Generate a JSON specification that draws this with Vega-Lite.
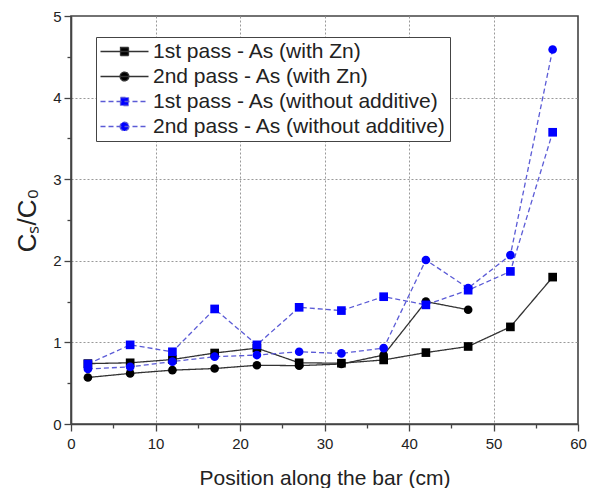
{
  "$schema": "https://vega.github.io/schema/vega-lite/v6.json",
  "width": 507,
  "height": 408,
  "autosize": {"type": "none"},
  "padding": {"left": 71, "top": 16, "right": 11, "bottom": 64},
  "background": "white",
  "config": {
    "font": "Liberation Sans",
    "view": {"stroke": "#444", "strokeWidth": 1.6},
    "legend": {
      "title": null,
      "orient": "none",
      "legendX": 25,
      "legendY": 21,
      "fillColor": "white",
      "strokeColor": "#444",
      "padding": 4,
      "rowPadding": 3,
      "labelFontSize": 21,
      "labelLimit": 400,
      "labelColor": "#222",
      "labelFont": "Liberation Sans",
      "symbolSize": 256,
      "symbolOffset": 14,
      "labelOffset": 18,
      "symbolStrokeWidth": 1.3,
      "symbolOpacity": 1
    }
  },
  "data": {
    "values": [
      {"pos": 2, "ratio": 0.74, "series": "1st pass - As (with Zn)"},
      {"pos": 7, "ratio": 0.75, "series": "1st pass - As (with Zn)"},
      {"pos": 12, "ratio": 0.79, "series": "1st pass - As (with Zn)"},
      {"pos": 17, "ratio": 0.87, "series": "1st pass - As (with Zn)"},
      {"pos": 22, "ratio": 0.93, "series": "1st pass - As (with Zn)"},
      {"pos": 27, "ratio": 0.75, "series": "1st pass - As (with Zn)"},
      {"pos": 32, "ratio": 0.745, "series": "1st pass - As (with Zn)"},
      {"pos": 37, "ratio": 0.785, "series": "1st pass - As (with Zn)"},
      {"pos": 42, "ratio": 0.875, "series": "1st pass - As (with Zn)"},
      {"pos": 47, "ratio": 0.95, "series": "1st pass - As (with Zn)"},
      {"pos": 52, "ratio": 1.19, "series": "1st pass - As (with Zn)"},
      {"pos": 57, "ratio": 1.8, "series": "1st pass - As (with Zn)"},
      {"pos": 2, "ratio": 0.57, "series": "2nd pass - As (with Zn)"},
      {"pos": 7, "ratio": 0.62, "series": "2nd pass - As (with Zn)"},
      {"pos": 12, "ratio": 0.66, "series": "2nd pass - As (with Zn)"},
      {"pos": 17, "ratio": 0.68, "series": "2nd pass - As (with Zn)"},
      {"pos": 22, "ratio": 0.72, "series": "2nd pass - As (with Zn)"},
      {"pos": 27, "ratio": 0.715, "series": "2nd pass - As (with Zn)"},
      {"pos": 32, "ratio": 0.735, "series": "2nd pass - As (with Zn)"},
      {"pos": 37, "ratio": 0.845, "series": "2nd pass - As (with Zn)"},
      {"pos": 42, "ratio": 1.5, "series": "2nd pass - As (with Zn)"},
      {"pos": 47, "ratio": 1.4, "series": "2nd pass - As (with Zn)"},
      {"pos": 2, "ratio": 0.735, "series": "1st pass - As (without additive)"},
      {"pos": 7, "ratio": 0.97, "series": "1st pass - As (without additive)"},
      {"pos": 12, "ratio": 0.885, "series": "1st pass - As (without additive)"},
      {"pos": 17, "ratio": 1.41, "series": "1st pass - As (without additive)"},
      {"pos": 22, "ratio": 0.97, "series": "1st pass - As (without additive)"},
      {"pos": 27, "ratio": 1.43, "series": "1st pass - As (without additive)"},
      {"pos": 32, "ratio": 1.39, "series": "1st pass - As (without additive)"},
      {"pos": 37, "ratio": 1.56, "series": "1st pass - As (without additive)"},
      {"pos": 42, "ratio": 1.46, "series": "1st pass - As (without additive)"},
      {"pos": 47, "ratio": 1.64, "series": "1st pass - As (without additive)"},
      {"pos": 52, "ratio": 1.87, "series": "1st pass - As (without additive)"},
      {"pos": 57, "ratio": 3.575, "series": "1st pass - As (without additive)"},
      {"pos": 2, "ratio": 0.675, "series": "2nd pass - As (without additive)"},
      {"pos": 7, "ratio": 0.7, "series": "2nd pass - As (without additive)"},
      {"pos": 12, "ratio": 0.765, "series": "2nd pass - As (without additive)"},
      {"pos": 17, "ratio": 0.825, "series": "2nd pass - As (without additive)"},
      {"pos": 22, "ratio": 0.845, "series": "2nd pass - As (without additive)"},
      {"pos": 27, "ratio": 0.885, "series": "2nd pass - As (without additive)"},
      {"pos": 32, "ratio": 0.865, "series": "2nd pass - As (without additive)"},
      {"pos": 37, "ratio": 0.93, "series": "2nd pass - As (without additive)"},
      {"pos": 42, "ratio": 2.01, "series": "2nd pass - As (without additive)"},
      {"pos": 47, "ratio": 1.665, "series": "2nd pass - As (without additive)"},
      {"pos": 52, "ratio": 2.07, "series": "2nd pass - As (without additive)"},
      {"pos": 57, "ratio": 4.59, "series": "2nd pass - As (without additive)"}
    ]
  },
  "encoding": {
    "x": {
      "field": "pos",
      "type": "quantitative",
      "scale": {"domain": [0, 60], "nice": false, "zero": false},
      "axis": {
        "title": "Position along the bar (cm)",
        "values": [0, 5, 10, 15, 20, 25, 30, 35, 40, 45, 50, 55, 60],
        "labelExpr": "datum.value % 10 === 0 ? format(datum.value, 'd') : ''",
        "labelOverlap": false,
        "labelFlush": false,
        "labelFontSize": 15,
        "labelColor": "#222",
        "labelPadding": 5,
        "tickSize": {"condition": {"test": "datum.value % 10 === 0", "value": 7}, "value": 4},
        "tickColor": "#444",
        "tickWidth": 1.3,
        "domainColor": "#444",
        "domainWidth": 1.6,
        "grid": true,
        "gridColor": "#999",
        "gridDash": [2, 2],
        "gridWidth": 1,
        "gridOpacity": {"condition": {"test": "datum.value % 10 === 0 && datum.value > 0 && datum.value < 60", "value": 1}, "value": 0},
        "titleFontSize": 21,
        "titleFontWeight": "normal",
        "titleColor": "#222",
        "titlePadding": 16
      }
    },
    "y": {
      "field": "ratio",
      "type": "quantitative",
      "scale": {"domain": [0, 5], "nice": false},
      "axis": {
        "title": "Cₛ/C₀",
        "values": [0, 0.5, 1, 1.5, 2, 2.5, 3, 3.5, 4, 4.5, 5],
        "labelExpr": "datum.value % 1 === 0 ? format(datum.value, 'd') : ''",
        "labelOverlap": false,
        "labelFlush": false,
        "labelFontSize": 15,
        "labelColor": "#222",
        "labelPadding": 3,
        "tickSize": {"condition": {"test": "datum.value % 1 === 0", "value": 7}, "value": 4},
        "tickColor": "#444",
        "tickWidth": 1.3,
        "domainColor": "#444",
        "domainWidth": 1.6,
        "grid": true,
        "gridColor": "#999",
        "gridDash": [2, 2],
        "gridWidth": 1,
        "gridOpacity": {"condition": {"test": "datum.value % 1 === 0 && datum.value > 0 && datum.value < 5", "value": 1}, "value": 0},
        "titleFontSize": 26,
        "titleFontWeight": "normal",
        "titleColor": "#222",
        "titlePadding": 12
      }
    }
  },
  "layer": [
    {
      "mark": {"type": "line", "strokeWidth": 1.3},
      "encoding": {
        "color": {
          "field": "series",
          "type": "nominal",
          "scale": {
            "domain": ["1st pass - As (with Zn)", "2nd pass - As (with Zn)", "1st pass - As (without additive)", "2nd pass - As (without additive)"],
            "range": ["#333333", "#333333", "#5b5bd6", "#5b5bd6"]
          },
          "legend": null
        },
        "strokeDash": {
          "field": "series",
          "type": "nominal",
          "scale": {
            "domain": ["1st pass - As (with Zn)", "2nd pass - As (with Zn)", "1st pass - As (without additive)", "2nd pass - As (without additive)"],
            "range": [[1, 0], [1, 0], [5, 3], [5, 3]]
          },
          "legend": null
        }
      }
    },
    {
      "mark": {"type": "point", "filled": true, "size": 75, "opacity": 1},
      "encoding": {
        "color": {
          "field": "series",
          "type": "nominal",
          "scale": {
            "domain": ["1st pass - As (with Zn)", "2nd pass - As (with Zn)", "1st pass - As (without additive)", "2nd pass - As (without additive)"],
            "range": ["#000000", "#000000", "#0000ff", "#0000ff"]
          },
          "legend": null
        },
        "shape": {
          "field": "series",
          "type": "nominal",
          "scale": {
            "domain": ["1st pass - As (with Zn)", "2nd pass - As (with Zn)", "1st pass - As (without additive)", "2nd pass - As (without additive)"],
            "range": ["square", "circle", "square", "circle"]
          },
          "legend": null
        }
      }
    },
    {
      "transform": [{"filter": "datum.pos < 0"}],
      "mark": {"type": "point", "filled": true, "strokeWidth": 1.3, "opacity": 1},
      "encoding": {
        "fill": {
          "field": "series",
          "type": "nominal",
          "scale": {
            "domain": ["1st pass - As (with Zn)", "2nd pass - As (with Zn)", "1st pass - As (without additive)", "2nd pass - As (without additive)"],
            "range": ["#000000", "#000000", "#0000ff", "#0000ff"]
          },
          "legend": {}
        },
        "stroke": {
          "field": "series",
          "type": "nominal",
          "scale": {
            "domain": ["1st pass - As (with Zn)", "2nd pass - As (with Zn)", "1st pass - As (without additive)", "2nd pass - As (without additive)"],
            "range": ["#333333", "#333333", "#5b5bd6", "#5b5bd6"]
          },
          "legend": {}
        },
        "shape": {
          "field": "series",
          "type": "nominal",
          "scale": {
            "domain": ["1st pass - As (with Zn)", "2nd pass - As (with Zn)", "1st pass - As (without additive)", "2nd pass - As (without additive)"],
            "range": [
              "M-3,0H3M-0.5,-0.5H0.5V0.5H-0.5Z",
              "M-3,0H3M-0.55,0A0.55,0.55,0,1,0,0.55,0A0.55,0.55,0,1,0,-0.55,0Z",
              "M-3,0H3M-0.5,-0.5H0.5V0.5H-0.5Z",
              "M-3,0H3M-0.55,0A0.55,0.55,0,1,0,0.55,0A0.55,0.55,0,1,0,-0.55,0Z"
            ]
          },
          "legend": {}
        },
        "strokeDash": {
          "field": "series",
          "type": "nominal",
          "scale": {
            "domain": ["1st pass - As (with Zn)", "2nd pass - As (with Zn)", "1st pass - As (without additive)", "2nd pass - As (without additive)"],
            "range": [[1, 0], [1, 0], [5, 3], [5, 3]]
          },
          "legend": {}
        }
      }
    }
  ],
  "resolve": {"scale": {"color": "independent", "shape": "independent", "strokeDash": "independent", "fill": "independent", "stroke": "independent"}}
}
